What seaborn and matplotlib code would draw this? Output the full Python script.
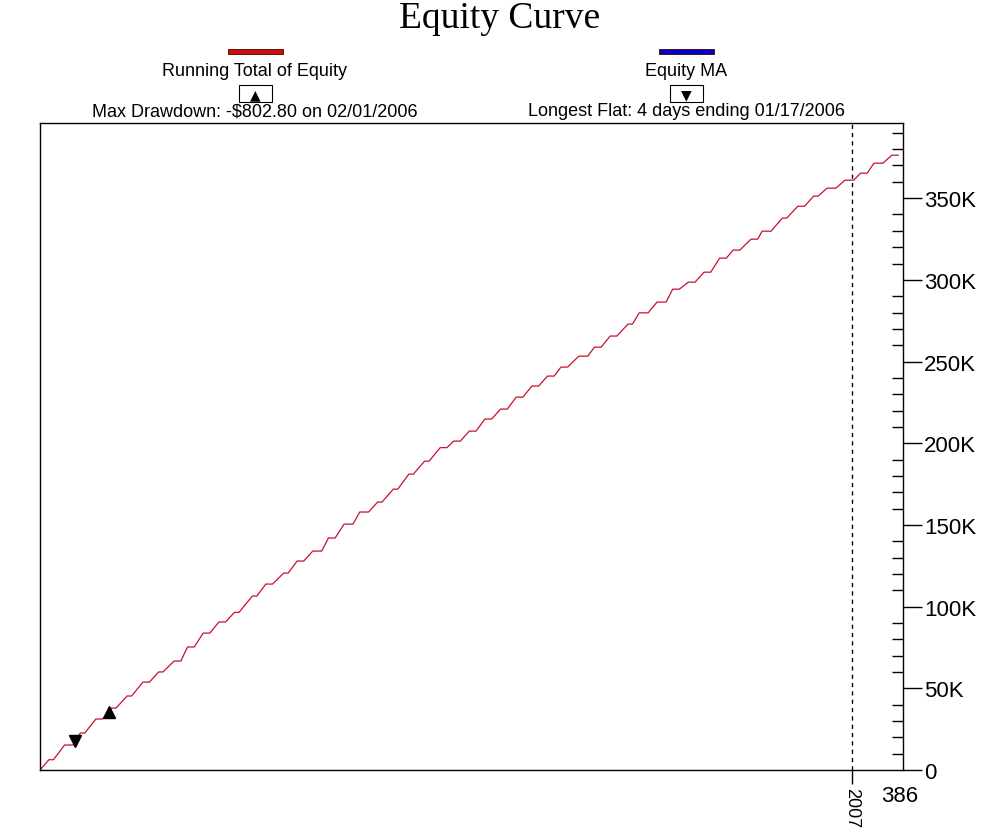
import numpy as np
import pandas as pd
import matplotlib
matplotlib.use('Agg')
import matplotlib.pyplot as plt
import matplotlib.ticker as mticker
import matplotlib.transforms as mtransforms
from matplotlib.patches import Rectangle
import seaborn as sns

# weekly plateaus (start day, end day, equity)
plateau_start = [4, 11, 18, 25, 32, 39, 46, 53, 60, 66, 73, 80, 87, 95, 101, 109,
                 115, 122, 129, 136, 143, 151, 158, 165, 172, 179, 185, 192, 199,
                 206, 213, 220, 227, 233, 241, 248, 255, 263, 268, 276, 283, 290,
                 297, 304, 310, 318, 323, 332, 339, 346, 352, 360, 367, 373, 381]
plateau_end = [6, 15, 20, 28, 34, 41, 49, 55, 63, 69, 76, 83, 89, 97, 104, 111,
               118, 126, 132, 140, 147, 153, 160, 167, 174, 182, 188, 195, 202,
               209, 216, 223, 230, 236, 245, 251, 258, 265, 272, 280, 286, 293,
               300, 307, 313, 321, 327, 334, 342, 348, 356, 364, 370, 377, 384]
plateau_value = [6300, 15300, 22600, 31200, 37900, 45300, 53800, 60000, 66700,
                 75300, 83800, 90600, 96500, 106500, 113800, 120500, 127900,
                 134000, 142000, 150500, 157900, 164000, 171900, 181100, 189000,
                 197300, 201300, 207400, 214800, 220900, 228200, 235000, 241100,
                 246600, 253300, 258800, 265600, 272900, 279800, 286400, 294300,
                 298600, 304700, 313300, 318200, 324900, 329800, 337800, 345100,
                 351200, 356100, 361000, 365300, 371400, 376300]

# markers: longest flat end (down) and max drawdown (up)
flat_marker = (15.7, 17900)
dd_marker = (30.9, 35300)

year_day = 363
last_day = 386

days = [0]
equity = [0]
for s, e, v in zip(plateau_start, plateau_end, plateau_value):
    days += [s, e]
    equity += [v, v]
df = pd.DataFrame({'day': days, 'equity': equity})

sns.set_style('white')
plt.rcParams['font.family'] = ['Liberation Sans', 'DejaVu Sans']
plt.rcParams['text.color'] = 'black'
plt.rcParams['xtick.color'] = 'black'
plt.rcParams['ytick.color'] = 'black'
plt.rcParams['axes.labelcolor'] = 'black'

fig = plt.figure(figsize=(10, 8.37), dpi=100)
ax = fig.add_axes([0.04, 1 - 771 / 837, 0.863, 647 / 837])

sns.lineplot(data=df, x='day', y='equity', color='#c8102e', linewidth=0.9, ax=ax)
ax.plot(*flat_marker, marker='v', color='black', markersize=8.5, linestyle='none')
ax.plot(*dd_marker, marker='^', color='black', markersize=8.5, linestyle='none')
ax.axvline(year_day, color='black', linestyle=(0, (3, 3)), linewidth=1)

ax.set_xlim(0, last_day)
ax.set_ylim(0, 396000)
ax.set_xlabel('')
ax.set_ylabel('')
for sp in ax.spines.values():
    sp.set_color('black')
    sp.set_linewidth(1)

ax.yaxis.tick_right()
ax.yaxis.set_major_locator(mticker.MultipleLocator(50000))
ax.yaxis.set_minor_locator(mticker.MultipleLocator(10000))
ax.yaxis.set_major_formatter(mticker.FuncFormatter(
    lambda v, p: '0' if v == 0 else f'{int(v / 1000)}K'))
ax.tick_params(axis='y', which='major', direction='out', length=14, width=1,
               labelsize=16, pad=1, left=False, right=True, colors='black')
ax.tick_params(axis='y', which='minor', direction='in', length=8, width=1,
               left=False, right=True, colors='black')

ax.set_xticks([year_day])
ax.set_xticklabels(['2007'], rotation=270, fontsize=13)
ax.tick_params(axis='x', direction='out', length=10, width=1, pad=2,
               bottom=True, colors='black')

trans = mtransforms.blended_transform_factory(ax.transData, ax.transAxes)
ax.text(last_day - 1.5, -0.04, str(last_day), transform=trans, ha='center',
        va='center', fontsize=16, color='black')

fig.text(0.5, 1 - 19 / 837, 'Equity Curve', ha='center', va='center',
         family='Liberation Serif', fontsize=27, color='black')


def fy(y):
    return 1 - y / 837


legend_items = [
    (255, '#d01010', 'Running Total of Equity', '▲',
     'Max Drawdown: -$802.80 on 02/01/2006'),
    (686, '#0000c8', 'Equity MA', '▼',
     'Longest Flat: 4 days ending 01/17/2006'),
]
for cx, col, name, sym, note in legend_items:
    fig.add_artist(Rectangle(((cx - 27) / 1000, fy(55)), 55 / 1000, 5 / 837,
                             transform=fig.transFigure, facecolor=col,
                             edgecolor='#400000', linewidth=0.6))
    fig.text(cx / 1000, fy(72), name, ha='center', va='center', fontsize=13,
             color='black')
    fig.add_artist(Rectangle(((cx - 16) / 1000, fy(103)), 33 / 1000, 17 / 837,
                             transform=fig.transFigure, facecolor='white',
                             edgecolor='black', linewidth=0.8))
    fig.text(cx / 1000, fy(95), sym, ha='center', va='center', fontsize=10,
             family='DejaVu Sans', color='black')
    fig.text(cx / 1000, fy(112), note, ha='center', va='center', fontsize=13,
             color='black')

fig.savefig('out.png', dpi=100, facecolor='white')
